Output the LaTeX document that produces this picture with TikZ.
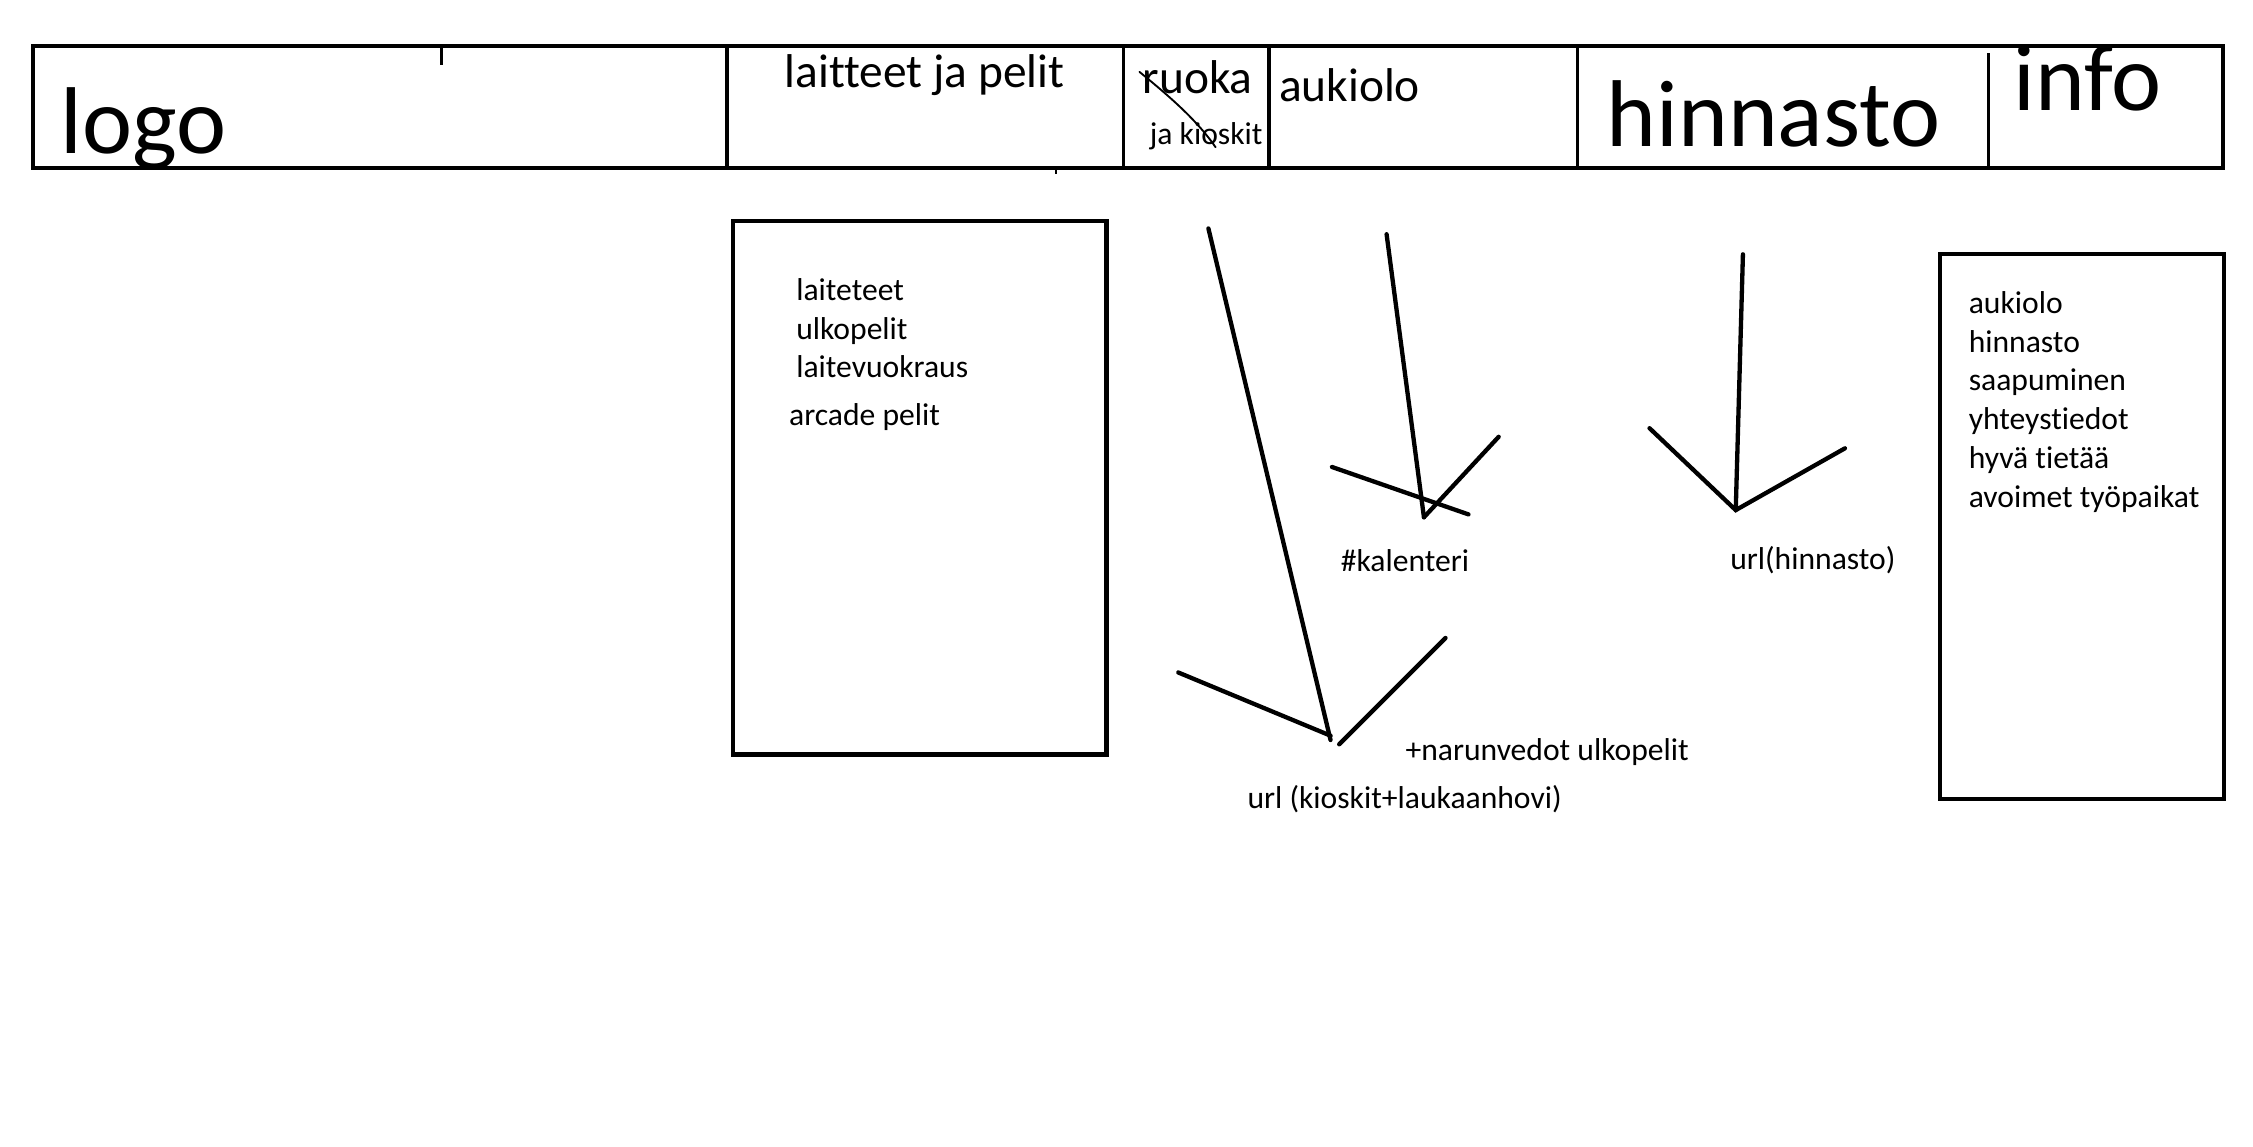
\documentclass[tikz,border=0pt]{standalone}
\usepackage{fontspec}
\setmainfont[Ligatures={NoCommon}]{Carlito}
\begin{document}
\begin{tikzpicture}[x=1pt,y=-1pt,
  frame/.style={line width=3pt},
  divider/.style={line width=2.5pt},
  stroke/.style={line width=3pt,line cap=round},
  big/.style={anchor=base west,inner sep=0pt,font=\fontsize{66}{72}\selectfont},
  mid/.style={anchor=base west,inner sep=0pt,font=\fontsize{33}{38}\selectfont},
  small/.style={anchor=base west,inner sep=0pt,font=\fontsize{22}{26}\selectfont}]
\useasboundingbox (0,0) rectangle (1568,798.2);
\fill[white] (0,0) rectangle (1568,798.2);
% top bar
\coordinate (barTL) at (23,32);
\coordinate (barBR) at (1547,117);
\draw[frame] (barTL) rectangle (barBR);
\foreach \x/\n in {506/d1,782/d2,883/d3,1098/d4}{
  \coordinate (\n t) at (\x,32); \coordinate (\n b) at (\x,117);
  \draw[divider] (\n t) -- (\n b);}
\coordinate (d5t) at (1384,37); \coordinate (d5b) at (1384,117);
\draw[divider] (d5t) -- (d5b);
\coordinate (tick1a) at (307,32); \coordinate (tick1b) at (307,45);
\draw[line width=2pt] (tick1a) -- (tick1b);
\coordinate (tick2a) at (735,117); \coordinate (tick2b) at (735,121);
\draw[line width=1.2pt] (tick2a) -- (tick2b);
% bar texts
\node[big] (logo) at (42,107) {logo};
\node[mid] (laitteet) at (546,61) {laitteet ja pelit};
\node[mid] (ruoka) at (795,65) {ruoka};
\node[small] (jakioskit) at (800,100.5) {ja kioskit};
\node[mid] (aukiolo) at (890,70.5) {aukiolo};
\node[big] (hinnasto) at (1118,102) {hinnasto};
\node[big] (info) at (1401,77) {info};
% strike over ruoka
\coordinate (s1) at (793,50);
\coordinate (s2) at (846,102.5);
\draw[line width=1.3pt,line cap=round] (s1) .. controls (810,64) and (832,82) .. (s2);
% left box
\coordinate (b1a) at (510,154); \coordinate (b1b) at (770,525);
\draw[frame] (b1a) rectangle (b1b);
\node[small] (l1) at (554,209) {laiteteet};
\node[small] (l2) at (554,236) {ulkopelit};
\node[small] (l3) at (554,263) {laitevuokraus};
\node[small] (l4) at (549,296) {arcade pelit};
% right box
\coordinate (b2a) at (1350,177); \coordinate (b2b) at (1548,556);
\draw[frame] (b2a) rectangle (b2b);
\node[small] (r1) at (1370,218) {aukiolo};
\node[small] (r2) at (1370,245) {hinnasto};
\node[small] (r3) at (1370,272) {saapuminen};
\node[small] (r4) at (1370,299) {yhteystiedot};
\node[small] (r5) at (1370,326) {hyvä tietää};
\node[small] (r6) at (1370,353) {avoimet työpaikat};
% arrow 1
\coordinate (a1s) at (841,159); \coordinate (a1e) at (926,515);
\coordinate (a1l) at (820,468); \coordinate (a1le) at (926,512);
\coordinate (a1r) at (1006,444); \coordinate (a1re) at (932,518);
\draw[stroke] (a1s) -- (a1e);
\draw[stroke] (a1l) -- (a1le);
\draw[stroke] (a1re) -- (a1r);
\node[small] (naru) at (978,529) {+narunvedot ulkopelit};
\node[small] (urlk) at (868,563) {url (kioskit+laukaanhovi)};
% arrow 2
\coordinate (a2s) at (965,163); \coordinate (a2e) at (991,360);
\coordinate (a2l) at (927,325); \coordinate (a2le) at (1022,358);
\coordinate (a2r) at (1043,304);
\draw[stroke] (a2s) -- (a2e);
\draw[stroke] (a2l) -- (a2le);
\draw[stroke] (a2e) -- (a2r);
\node[small] (kal) at (933,398) {\#kalenteri};
% arrow 3
\coordinate (a3s) at (1213,177); \coordinate (a3e) at (1208,355);
\coordinate (a3l) at (1148,298); \coordinate (a3r) at (1284,312);
\draw[stroke] (a3s) -- (a3e);
\draw[stroke] (a3l) -- (a3e) -- (a3r);
\node[small] (urlh) at (1204,396) {url(hinnasto)};
\end{tikzpicture}
\end{document}
